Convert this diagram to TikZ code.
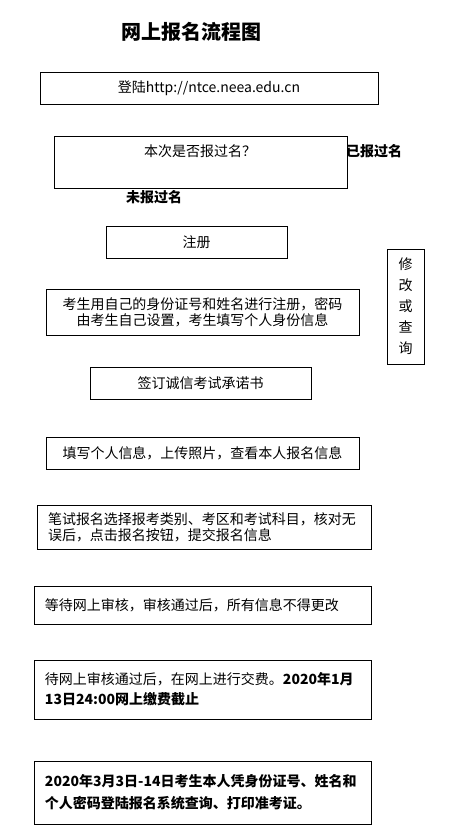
\documentclass[tikz,border=0pt]{standalone}
\usepackage{fontspec}
\setmainfont{Noto Sans CJK SC}
\usepackage{tikz}
\usetikzlibrary{positioning}
\exhyphenpenalty=10000
\hyphenpenalty=10000

\begin{document}
\begin{tikzpicture}[x=1pt, y=-1pt,
    txt/.style={font=\fontsize{14}{16}\selectfont, inner sep=0pt},
    box/.style={draw, line width=1pt, txt, align=center},
    lbox/.style={draw, line width=1pt, txt, align=left, inner xsep=11pt}]
    \useasboundingbox (0,0) rectangle (464,836);

    % Title
    \node[font=\fontsize{20}{24}\selectfont\bfseries] (title) at (191,32) {网上报名流程图};

    % Login
    \node[box, minimum width=338pt, minimum height=32pt] (login) at (209,88) {登陆http://ntce.neea.edu.cn};

    % Question
    \node[box, minimum width=293pt, minimum height=52pt] (ask) at (200.5,162) {};
    \node[txt] (askq) at (200,151) {本次是否报过名？};
    \node[txt, font=\fontsize{14}{16}\selectfont\bfseries] (done) at (374,151) {已报过名};
    \node[txt, font=\fontsize{14}{16}\selectfont\bfseries] (notdone) at (154,197) {未报过名};

    % Register
    \node[box, minimum width=181pt, minimum height=32pt] (reg) at (196.5,242) {注册};

    % Edit or query
    \node[box, minimum width=37pt, minimum height=115pt,
          font=\fontsize{14}{21}\selectfont] (edit) at (405.5,306.5) {修\\改\\或\\查\\询};

    % Identity
    \node[box, minimum width=313pt, minimum height=46pt] (ident) at (202.5,312)
        {考生用自己的身份证号和姓名进行注册，密码\\由考生自己设置，考生填写个人身份信息};

    % Pledge
    \node[box, minimum width=221pt, minimum height=32pt] (pledge) at (200.5,383) {签订诚信考试承诺书};

    % Fill in
    \node[box, minimum width=313pt, minimum height=32pt] (fill) at (202.5,453)
        {填写个人信息，上传照片，查看本人报名信息};

    % Apply
    \node[lbox, text width=312pt, minimum height=44pt] (apply) at (204,527)
        {笔试报名选择报考类别、考区和考试科目，核对无\\误后，点击报名按钮，提交报名信息};

    % Wait
    \node[lbox, text width=315pt, minimum height=38pt] (wait) at (202.5,605)
        {等待网上审核，审核通过后，所有信息不得更改};

    % Pay
    \node[lbox, text width=315pt, minimum height=59pt] (pay) at (202.5,689.5)
        {待网上审核通过后，在网上进行交费。\textbf{2020年1月}\\[4pt]\textbf{13日24:00网上缴费截止}};

    % Print
    \node[lbox, text width=315pt, minimum height=63pt, font=\fontsize{14}{16}\selectfont\bfseries] (print) at (202.5,792.5)
        {2020年3月3日-14日考生本人凭身份证号、姓名和\\[6pt]个人密码登陆报名系统查询、打印准考证。};
\end{tikzpicture}
\end{document}
